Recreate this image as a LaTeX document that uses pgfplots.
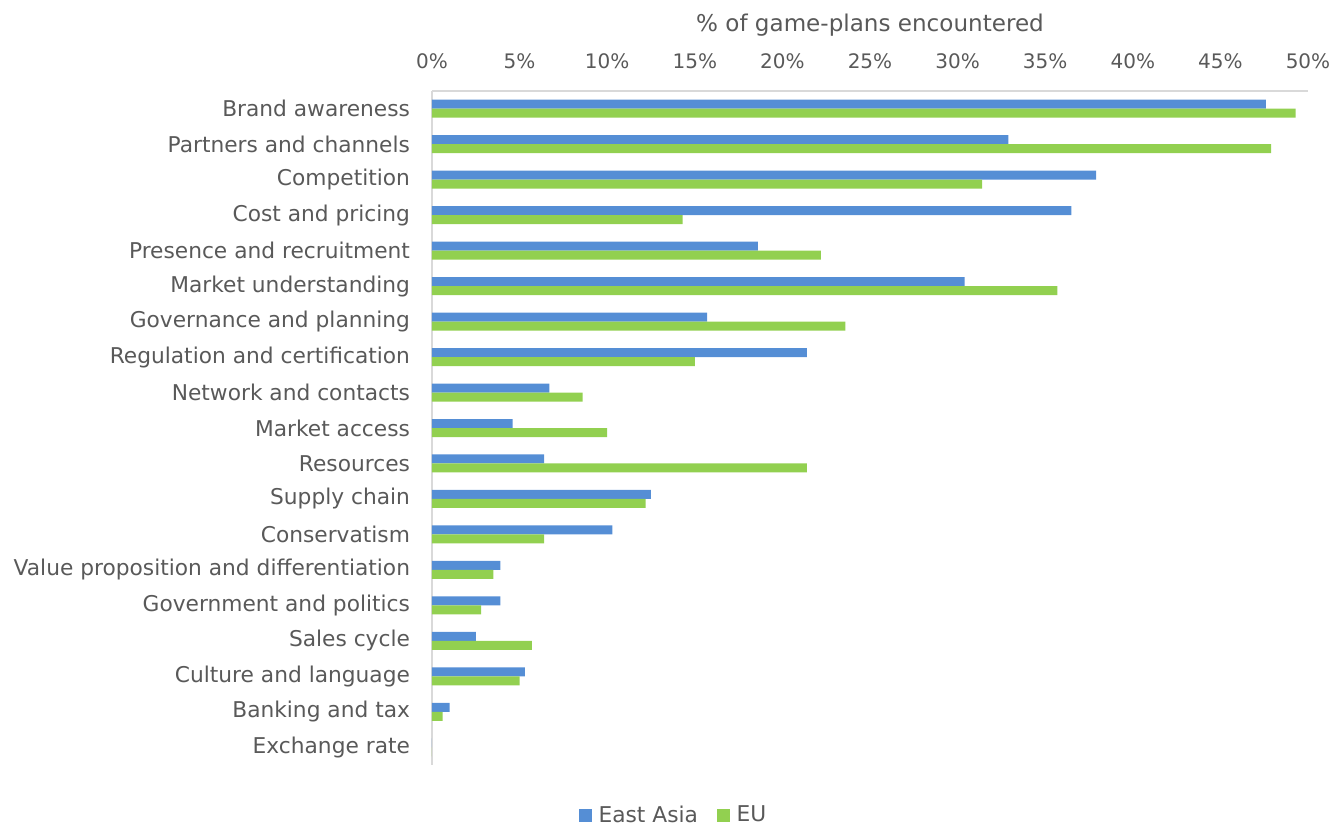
\documentclass[border=0pt]{standalone}
\usepackage{pgfplots}
\pgfplotsset{compat=1.18}
\usepackage{fontspec}
\setmainfont{DejaVu Sans}
\definecolor{txtgray}{HTML}{595959}
\definecolor{axgray}{HTML}{D9D9D9}
\definecolor{eablue}{HTML}{558ED5}
\definecolor{eugreen}{HTML}{92D050}

\begin{document}
\begin{tikzpicture}[x=0.75pt,y=0.75pt]
\useasboundingbox (0,0) rectangle (1332,825);
\begin{axis}[
    at={(432*0.75pt,60*0.75pt)}, anchor=south west,
    scale only axis,
    width=657pt, height=505.5pt,
    xbar,
    bar width=6.75pt,
    y dir=reverse,
    xmin=0, xmax=50,
    ymin=-0.5, ymax=18.5,
    axis x line*=top,
    axis y line*=left,
    axis line style={axgray, line width=1.2pt},
    x axis line style={-}, y axis line style={-},
    xtick={0,5,...,50},
    xticklabel={\pgfmathprintnumber{\tick}\%},
    xticklabel pos=top,
    major tick length=0pt,
    ytick={0,...,18},
    yticklabels={Brand awareness, Partners and channels, Competition, Cost and pricing,
      Presence and recruitment, Market understanding, Governance and planning,
      Regulation and certification, Network and contacts, Market access, Resources,
      Supply chain, Conservatism, Value proposition and differentiation,
      Government and politics, Sales cycle, Culture and language, Banking and tax,
      Exchange rate},
    xticklabel style={font=\fontsize{15}{16}\selectfont, text=txtgray, yshift=13pt},
    yticklabel style={font=\fontsize{16.3}{18}\selectfont, text=txtgray, xshift=-13pt},
    /pgf/number format/assume math mode=true,
    xtick style={draw=none}, ytick style={draw=none},
    xlabel={\% of game-plans encountered},
    xlabel style={font=\fontsize{17.3}{19}\selectfont, text=txtgray, yshift=6pt},
    legend style={at={(0.276,-0.074)}, anchor=center, draw=none,
      legend columns=2, font=\fontsize{16.3}{18}\selectfont, text=txtgray,
      /tikz/every even column/.append style={column sep=12pt}},
    legend image code/.code={\fill[#1] (0pt,-5pt) rectangle (9.75pt,4.75pt);
      \path (13pt,0pt);},
]
\addplot[fill=eablue, draw=none, bar shift=3.375pt] coordinates {
  (47.6,0) (32.9,1) (37.9,2) (36.5,3) (18.6,4) (30.4,5) (15.7,6) (21.4,7)
  (6.7,8) (4.6,9) (6.4,10) (12.5,11) (10.3,12) (3.9,13) (3.9,14) (2.5,15)
  (5.3,16) (1.0,17) (0,18)
};
\addplot[fill=eugreen, draw=none, bar shift=-3.375pt] coordinates {
  (49.3,0) (47.9,1) (31.4,2) (14.3,3) (22.2,4) (35.7,5) (23.6,6) (15.0,7)
  (8.6,8) (10.0,9) (21.4,10) (12.2,11) (6.4,12) (3.5,13) (2.8,14) (5.7,15)
  (5.0,16) (0.6,17) (0,18)
};
\legend{East Asia, EU}
\end{axis}
\end{tikzpicture}
\end{document}
